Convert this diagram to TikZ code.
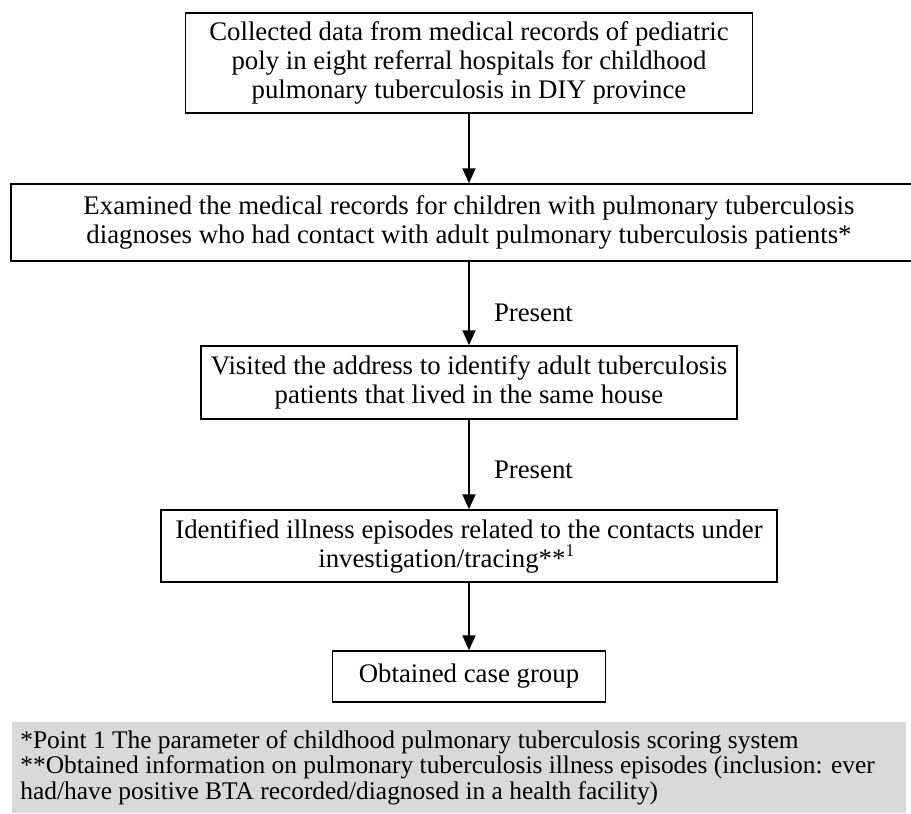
\documentclass[tikz,border=0pt]{standalone}
\usepackage{fontspec}
\setmainfont{Liberation Serif}
\usetikzlibrary{arrows.meta,positioning}

\begin{document}
\begin{tikzpicture}[
		x=0.5pt, y=-0.5pt,
		every node/.style={align=center, font=\fontsize{13.4}{14.5}\selectfont},
		flowbox/.style={rectangle, draw, line width=0.75pt, inner sep=0pt},
		flow/.style={-{Triangle[length=7.5pt, width=6.5pt]}, line width=1pt},
		cond/.style={inner sep=0pt, anchor=west}
	]
  \useasboundingbox (0,0) rectangle (911,814);
  \node (b_collect) [flowbox, minimum width=283.5pt, minimum height=50pt] at (469,63)
    {Collected data from medical records of pediatric\\poly in eight referral hospitals for childhood\\pulmonary tuberculosis in DIY province};
  \node (b_examine) [flowbox, minimum width=458pt, minimum height=38.5pt] at (469,222.5)
    {Examined the medical records for children with pulmonary tuberculosis\\diagnoses who had contact with adult pulmonary tuberculosis patients*};
  \node (b_visit) [flowbox, minimum width=268pt, minimum height=36.5pt] at (469,382.5)
    {Visited the address to identify adult tuberculosis\\patients that lived in the same house};
  \node (b_identify) [flowbox, minimum width=308pt, minimum height=36pt] at (469,546)
    {Identified illness episodes related to the contacts under\\investigation/tracing**$^{1}$\hspace*{22pt}};
  \node (b_case) [flowbox, minimum width=136.5pt, minimum height=25.5pt] at (469,676.5)
    {Obtained case group};
  \node (n_notes) [fill=gray!30, align=flush left, anchor=north west, text width=439pt,
    inner xsep=4pt, inner ysep=4pt, minimum height=44pt,
    font=\fontsize{12.7}{11.5}\selectfont] at (12,722)
    {*Point 1 The parameter of childhood pulmonary tuberculosis scoring system\\{}**Obtained information on pulmonary tuberculosis illness episodes (inclusion: ever\\had/have positive BTA recorded/diagnosed in a health facility)};

  \draw [flow] (b_collect) -- (b_examine);
  \draw [flow] (b_examine) -- node [cond, pos=0.61, xshift=12pt] (p_visit) {Present} (b_visit);
  \draw [flow] (b_visit) -- node [cond, pos=0.56, xshift=12pt] (p_identify) {Present} (b_identify);
  \draw [flow] (b_identify) -- (b_case);
\end{tikzpicture}
\end{document}
